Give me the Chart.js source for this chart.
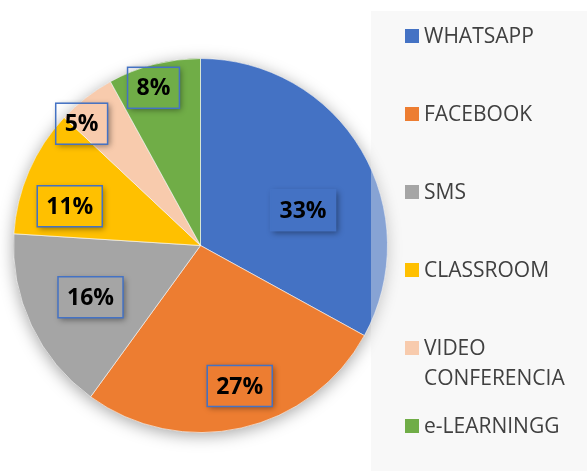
<!DOCTYPE html>
<html>
<head>
<meta charset="utf-8">
<script src="https://cdn.jsdelivr.net/npm/chart.js@4.4.1/dist/chart.umd.min.js"></script>
<style>
  html, body { margin: 0; padding: 0; background: #fff; }
  canvas { display: block; }
</style>
</head>
<body>
<canvas id="pieChart" width="587" height="471"></canvas>
<script>
// Data
const categories = ['WHATSAPP', 'FACEBOOK', 'SMS', 'CLASSROOM', 'VIDEO CONFERENCIA', 'e-LEARNINGG'];
const shares = [33, 27, 16, 11, 5, 8];
const sliceColors = ['#4472C4', '#ED7D31', '#A5A5A5', '#FFC000', '#F8CBAD', '#70AD47'];

// label placement (fraction of radius, turn in degrees from slice middle)
const labelRadius = [0.58, 0.78, 0.65, 0.73, 0.91, 0.88];
const labelTurn = [11.6, -3, 0, -6.7, -6.5, -2.2];

// soft shadow under the whole pie
const pieShadow = {
    id: 'pieShadow',
    beforeDatasetsDraw(chart) {
        const arc = chart.getDatasetMeta(0).data[0];
        if (!arc) return;
        const ctx = chart.ctx;
        ctx.save();
        ctx.shadowColor = 'rgba(0,0,0,0.35)';
        ctx.shadowBlur = 16;
        ctx.shadowOffsetY = 3;
        ctx.fillStyle = '#999';
        ctx.beginPath();
        ctx.arc(arc.x, arc.y, arc.outerRadius, 0, Math.PI * 2);
        ctx.fill();
        ctx.restore();
    }
};

// boxed percentage labels (transparent box, shadow outside only)
const boxedLabels = {
    id: 'boxedLabels',
    afterDatasetsDraw(chart) {
        const ctx = chart.ctx;
        const total = shares.reduce((a, b) => a + b, 0);
        chart.getDatasetMeta(0).data.forEach((arc, i) => {
            const mid = (arc.startAngle + arc.endAngle) / 2 + labelTurn[i] * Math.PI / 180;
            const r = arc.outerRadius * labelRadius[i];
            const cx = arc.x + Math.cos(mid) * r;
            const cy = arc.y + Math.sin(mid) * r;
            const text = Math.round(shares[i] / total * 100) + '%';
            ctx.save();
            ctx.font = 'bold 23px "Open Sans"';
            const w = ctx.measureText(text).width + 18;
            const h = 41;
            const bx = cx - w / 2, by = cy - h / 2;

            ctx.save();
            ctx.beginPath();
            ctx.rect(0, 0, chart.width, chart.height);
            ctx.rect(bx, by, w, h);
            ctx.clip('evenodd');
            ctx.shadowColor = 'rgba(0,0,0,0.4)';
            ctx.shadowBlur = 6;
            ctx.shadowOffsetX = 2;
            ctx.shadowOffsetY = 2;
            ctx.fillStyle = '#000';
            ctx.fillRect(bx, by, w, h);
            ctx.restore();

            ctx.strokeStyle = '#4472C4';
            ctx.lineWidth = 1.5;
            ctx.strokeRect(bx, by, w, h);
            ctx.fillStyle = '#000';
            ctx.textAlign = 'center';
            ctx.textBaseline = 'middle';
            ctx.fillText(text, cx, cy + 1);
            ctx.restore();
        });
    }
};

// legend panel on the right, drawn over the pie edge
const sideLegend = {
    id: 'sideLegend',
    afterDraw(chart) {
        const ctx = chart.ctx;
        ctx.save();
        ctx.fillStyle = 'rgba(238,238,238,0.4)';
        ctx.fillRect(371, 11, chart.width - 371, chart.height - 11);
        ctx.font = '21px "Open Sans"';
        ctx.textBaseline = 'middle';
        const maxW = 155;
        categories.forEach((name, i) => {
            const y = 36 + 78 * i;
            ctx.fillStyle = sliceColors[i];
            ctx.fillRect(405, y - 7, 14, 14);
            // wrap long names
            const words = name.split(' ');
            const lines = [];
            let cur = '';
            words.forEach(wd => {
                const test = cur ? cur + ' ' + wd : wd;
                if (cur && ctx.measureText(test).width > maxW) {
                    lines.push(cur);
                    cur = wd;
                } else {
                    cur = test;
                }
            });
            lines.push(cur);
            ctx.fillStyle = '#404040';
            lines.forEach((ln, j) => ctx.fillText(ln, 424, y + 30 * j + 1));
        });
        ctx.restore();
    }
};

new Chart(document.getElementById('pieChart'), {
    type: 'pie',
    data: {
        labels: categories,
        datasets: [{
            data: shares,
            backgroundColor: sliceColors,
            borderColor: 'rgba(255,255,255,0.6)',
            borderWidth: 1,
            hoverOffset: 0
        }]
    },
    options: {
        responsive: false,
        animation: false,
        devicePixelRatio: 1,
        layout: { padding: { left: 13, right: 199, top: 58, bottom: 38 } },
        plugins: {
            legend: { display: false },
            tooltip: { enabled: false }
        }
    },
    plugins: [pieShadow, boxedLabels, sideLegend]
});
</script>
</body>
</html>
